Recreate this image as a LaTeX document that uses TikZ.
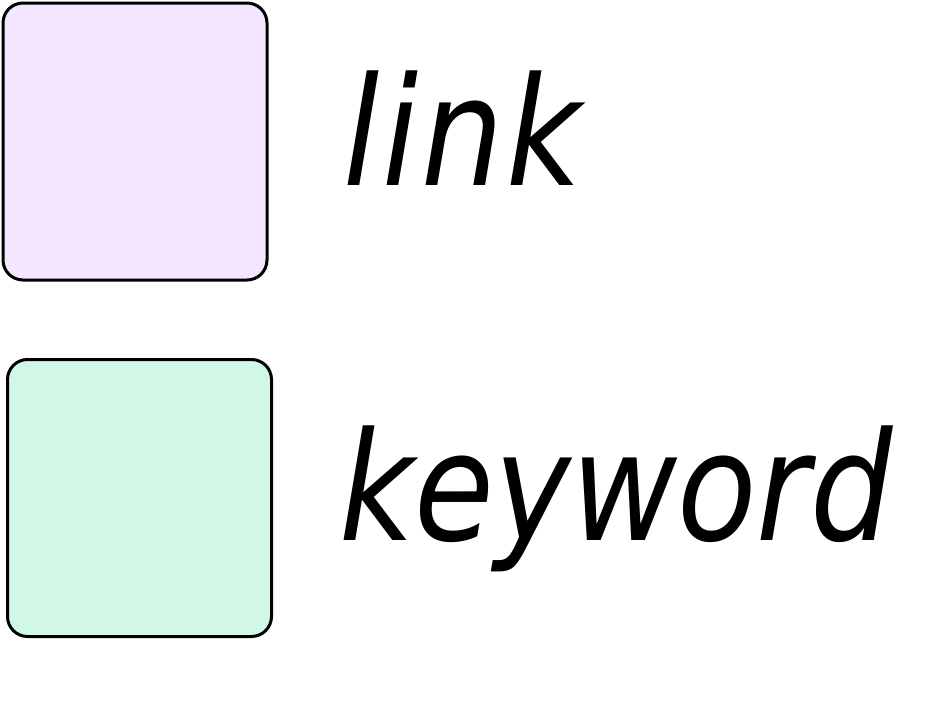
\documentclass[tikz,border=0pt]{standalone}
\usepackage{fontspec}
\newfontfamily\labfont[FakeStretch=0.86]{DejaVu Sans}
\definecolor{linkfill}{HTML}{F4E6FE}
\definecolor{keyfill}{HTML}{D1F8E4}
\begin{document}
\begin{tikzpicture}[x=1pt,y=-1pt,
  swatch/.style={draw=black, line width=3pt, rounded corners=20pt, minimum width=264pt, minimum height=277pt, inner sep=0pt, anchor=north west},
  lab/.style={font=\labfont\itshape\fontsize{151}{151}\selectfont, anchor=base west, inner sep=0pt}]
\useasboundingbox (0,0) rectangle (942,712);
\node[swatch, fill=linkfill] (linkbox) at (1.5,1.5) {};
\node[swatch, fill=keyfill] (keybox) at (6,358) {};
\node[lab] (linktext) at (343,185) {l\kern3pt i\kern3pt n\kern3pt k};
\node[lab] (keytext) at (339,540) {keyword};
\end{tikzpicture}
\end{document}
